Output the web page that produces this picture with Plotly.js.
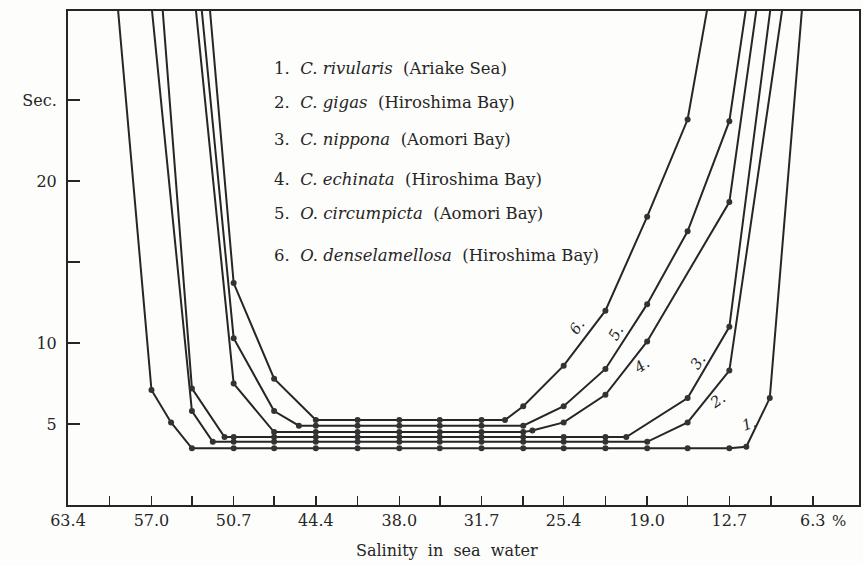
<!DOCTYPE html>
<html>
<head>
<meta charset="utf-8">
<script src="https://cdn.plot.ly/plotly-3.0.1.min.js"></script>
<style>html,body{margin:0;padding:0;background:#fdfdfb;}#chart{width:863px;height:566px;}</style>
</head>
<body>
<div id="chart"></div>
<script>
// ---- tick labels ----
const xTickVals = [63.4, 57.0, 50.7, 44.4, 38.0, 31.7, 25.4, 19.0, 12.7, 6.3];
const xTickText = ["63.4", "57.0", "50.7", "44.4", "38.0", "31.7", "25.4", "19.0", "12.7", "6.3"];
const xMinorVals = [60.2, 53.9, 47.6, 41.2, 34.9, 28.5, 22.2, 15.9, 9.5];
const yTickVals = [5, 10, 15, 20, 25];
const yTickText = ["5", "10", "", "20", "Sec."];

// ---- series (salinity, reaction time in sec.) ----
const seriesNames = [
  "1. C. rivularis (Ariake Sea)",
  "2. C. gigas (Hiroshima Bay)",
  "3. C. nippona (Aomori Bay)",
  "4. C. echinata (Hiroshima Bay)",
  "5. O. circumpicta (Aomori Bay)",
  "6. O. denselamellosa (Hiroshima Bay)"
];
const s1x = [60.2, 57.0, 55.5, 53.9, 50.7, 47.6, 44.4, 41.2, 38.0, 34.9, 31.7, 28.5, 25.4, 22.2, 19.0, 15.9, 12.7, 11.4, 9.6, 6.3];
const s1y = [36.4, 7.1, 5.1, 3.5, 3.5, 3.5, 3.5, 3.5, 3.5, 3.5, 3.5, 3.5, 3.5, 3.5, 3.5, 3.5, 3.5, 3.6, 6.6, 38.7];
const s2x = [60.2, 53.9, 52.3, 50.7, 47.6, 44.4, 41.2, 38.0, 34.9, 31.7, 28.5, 25.4, 22.2, 19.0, 15.9, 12.7, 6.3];
const s2y = [56.7, 5.8, 3.9, 3.9, 3.9, 3.9, 3.9, 3.9, 3.9, 3.9, 3.9, 3.9, 3.9, 3.9, 5.1, 8.3, 43.5];
const s3x = [57.0, 53.9, 51.4, 50.7, 47.6, 44.4, 41.2, 38.0, 34.9, 31.7, 28.5, 25.4, 22.2, 20.6, 15.9, 12.7, 6.3];
const s3y = [39.5, 7.2, 4.2, 4.2, 4.2, 4.2, 4.2, 4.2, 4.2, 4.2, 4.2, 4.2, 4.2, 4.2, 6.6, 11.0, 50.9];
const s4x = [53.9, 50.7, 47.6, 44.4, 41.2, 38.0, 34.9, 31.7, 28.5, 27.8, 25.4, 22.2, 19.0, 12.7, 9.5];
const s4y = [33.0, 7.5, 4.5, 4.5, 4.5, 4.5, 4.5, 4.5, 4.5, 4.6, 5.1, 6.8, 10.1, 18.7, 37.0];
const s5x = [53.9, 50.7, 47.6, 45.7, 44.4, 41.2, 38.0, 34.9, 31.7, 28.5, 25.4, 22.2, 19.0, 15.9, 12.7, 9.5];
const s5y = [36.8, 10.3, 5.8, 4.9, 4.9, 4.9, 4.9, 4.9, 4.9, 4.9, 6.1, 8.4, 12.4, 16.9, 23.7, 41.1];
const s6x = [53.9, 50.7, 47.6, 44.4, 41.2, 38.0, 34.9, 31.7, 29.9, 28.5, 25.4, 22.2, 19.0, 15.9, 12.7];
const s6y = [43.4, 13.7, 7.8, 5.25, 5.25, 5.25, 5.25, 5.25, 5.25, 6.1, 8.6, 12.0, 17.8, 23.8, 38.3];

// legend texts (species italic) and curve number labels
const legendNums = ["1.", "2.", "3.", "4.", "5.", "6."];
const legendGenus = ["C.", "C.", "C.", "C.", "O.", "O."];
const legendSpecies = ["rivularis", "gigas", "nippona", "echinata", "circumpicta", "denselamellosa"];
const legendPlace = ["Ariake Sea", "Hiroshima Bay", "Aomori Bay", "Hiroshima Bay", "Aomori Bay", "Hiroshima Bay"];
const curveLabels = ["1.", "2.", "3.", "4.", "5.", "6."];

const xs = [s1x, s2x, s3x, s4x, s5x, s6x];
const ys = [s1y, s2y, s3y, s4y, s5y, s6y];

const FONT = "DejaVu Serif";
const INK = "#262626";
const W = 863, H = 566, L = 68, R = 4, T = 11, B = 61;
const pw = W - L - R, ph = H - T - B;
const fx = px => (px - L) / pw;
const fy = py => (H - B - py) / ph;

const traces = xs.map((x, i) => ({
  type: "scatter", mode: "lines+markers", x: x, y: ys[i], name: seriesNames[i],
  line: {color: INK, width: 2},
  marker: {color: "#333333", size: 6},
  cliponaxis: true, showlegend: false, hoverinfo: "skip"
}));

const annotations = [];
// legend block
const legY = [68, 103, 140, 180, 213, 255];
for (let i = 0; i < 6; i++) {
  annotations.push({
    xref: "paper", yref: "paper", x: fx(272), y: fy(legY[i]), xanchor: "left", yanchor: "middle",
    showarrow: false,
    text: legendNums[i] + "&nbsp;&nbsp;<i>" + legendGenus[i] + "&nbsp;" + legendSpecies[i] + "</i>&nbsp;&nbsp;(" + legendPlace[i] + ")",
    font: {family: FONT, size: 16.5, color: INK}
  });
}
// curve number labels
const labPos = [[749, 424, -20], [717, 401, -35], [698, 362, -55], [641, 366, -35], [616, 333, -60], [577, 327, -55]];
for (let i = 0; i < 6; i++) {
  annotations.push({
    xref: "paper", yref: "paper", x: fx(labPos[i][0]), y: fy(labPos[i][1]), xanchor: "center", yanchor: "middle",
    showarrow: false, text: "<i>" + curveLabels[i] + "</i>", textangle: labPos[i][2],
    font: {family: FONT, size: 15, color: INK}
  });
}
// x-axis title and % sign
annotations.push({xref: "paper", yref: "paper", x: fx(447), y: fy(550), xanchor: "center", yanchor: "middle",
  showarrow: false, text: "Salinity&nbsp;&nbsp;in&nbsp;&nbsp;sea&nbsp;&nbsp;water", font: {family: FONT, size: 16, color: INK}});
annotations.push({xref: "paper", yref: "paper", x: fx(839), y: fy(521), xanchor: "center", yanchor: "middle",
  showarrow: false, text: "%", font: {family: FONT, size: 15, color: INK}});

const layout = {
  width: W, height: H,
  margin: {l: L, r: R, t: T, b: B, pad: 0},
  paper_bgcolor: "#fdfdfb", plot_bgcolor: "#fdfdfb",
  showlegend: false,
  xaxis: {
    range: [63.4, 2.76], tickmode: "array", tickvals: xTickVals, ticktext: xTickText,
    ticks: "inside", ticklen: 9, tickwidth: 1.5, tickcolor: INK,
    minor: {tickmode: "array", tickvals: xMinorVals, ticks: "inside", ticklen: 9, tickwidth: 1.5, tickcolor: INK, showgrid: false},
    showgrid: false, zeroline: false, showline: true, mirror: true, linewidth: 2, linecolor: INK,
    tickfont: {family: FONT, size: 16, color: INK}
  },
  yaxis: {
    range: [0, 30.5], tickmode: "array", tickvals: yTickVals, ticktext: yTickText,
    ticks: "inside", ticklen: 12, tickwidth: 1.5, tickcolor: INK, ticklabelstandoff: 6,
    showgrid: false, zeroline: false, showline: true, mirror: true, linewidth: 2, linecolor: INK,
    tickfont: {family: FONT, size: 16, color: INK}
  },
  annotations: annotations
};

Plotly.newPlot("chart", traces, layout, {displayModeBar: false, staticPlot: true});
</script>
</body>
</html>
